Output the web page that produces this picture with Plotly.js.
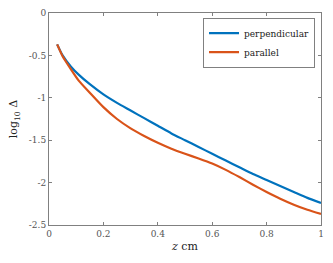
<!DOCTYPE html>
<html><head><meta charset="utf-8">
<script src="https://cdn.plot.ly/plotly-3.0.1.min.js"></script>
<style>html,body{margin:0;padding:0;background:#fff}</style>
</head><body><div id="chart" style="width:333px;height:263px"></div>
<script>
var zValues = [0.03, 0.05, 0.08, 0.11, 0.15, 0.2, 0.25, 0.3, 0.35, 0.4, 0.45, 0.5, 0.55, 0.6, 0.65, 0.7, 0.75, 0.8, 0.85, 0.9, 0.95, 1.0];
var perpendicular = [-0.37, -0.50, -0.63, -0.73, -0.84, -0.96, -1.06, -1.15, -1.24, -1.33, -1.42, -1.50, -1.58, -1.66, -1.74, -1.82, -1.90, -1.97, -2.04, -2.11, -2.18, -2.24];
var parallel = [-0.37, -0.51, -0.66, -0.80, -0.94, -1.11, -1.25, -1.36, -1.45, -1.53, -1.60, -1.66, -1.715, -1.775, -1.85, -1.935, -2.025, -2.11, -2.19, -2.26, -2.32, -2.37];
var xTicks = [0, 0.2, 0.4, 0.6, 0.8, 1];
var xTickText = ['0', '0.2', '0.4', '0.6', '0.8', '1'];
var yTicks = [-2.5, -2, -1.5, -1, -0.5, 0];
var yTickText = ['-2.5', '-2', '-1.5', '-1', '-0.5', '0'];
var seriesNames = ['perpendicular', 'parallel'];

var font = 'DejaVu Serif';
var traces = [
  {x: zValues, y: perpendicular, name: seriesNames[0], mode: 'lines', line: {color: '#0072BD', width: 2.2, shape: 'spline', smoothing: 0.6}},
  {x: zValues, y: parallel, name: seriesNames[1], mode: 'lines', line: {color: '#D95319', width: 2.2, shape: 'spline', smoothing: 0.6}}
];
var axisCommon = {
  showgrid: false, zeroline: false, showline: true, mirror: 'ticks',
  linecolor: '#808080', linewidth: 1, ticks: 'inside', ticklen: 3, tickcolor: '#808080',
  tickfont: {family: font, size: 9, color: '#555'}
};
var layout = {
  width: 333, height: 263,
  margin: {l: 49, r: 12, t: 13, b: 38},
  paper_bgcolor: '#fff', plot_bgcolor: '#fff',
  font: {family: font, size: 9, color: '#222'},
  showlegend: true,
  legend: {x: 0.978, xanchor: 'right', y: 0.978, yanchor: 'top', bgcolor: '#fff',
           bordercolor: '#808080', borderwidth: 1, font: {family: font, size: 9, color: '#222'},
           tracegroupgap: 0, itemwidth: 30},
  xaxis: Object.assign({}, axisCommon, {range: [0, 1], tickvals: xTicks, ticktext: xTickText,
    title: {text: '<i>z</i> cm', font: {family: font, size: 11, color: '#222'}, standoff: 4}}),
  yaxis: Object.assign({}, axisCommon, {range: [-2.5, 0], tickvals: yTicks, ticktext: yTickText,
    title: {text: 'log<sub>10</sub> Δ', font: {family: font, size: 11, color: '#222'}, standoff: 8}})
};
Plotly.newPlot('chart', traces, layout, {displayModeBar: false, staticPlot: true});
</script></body></html>
